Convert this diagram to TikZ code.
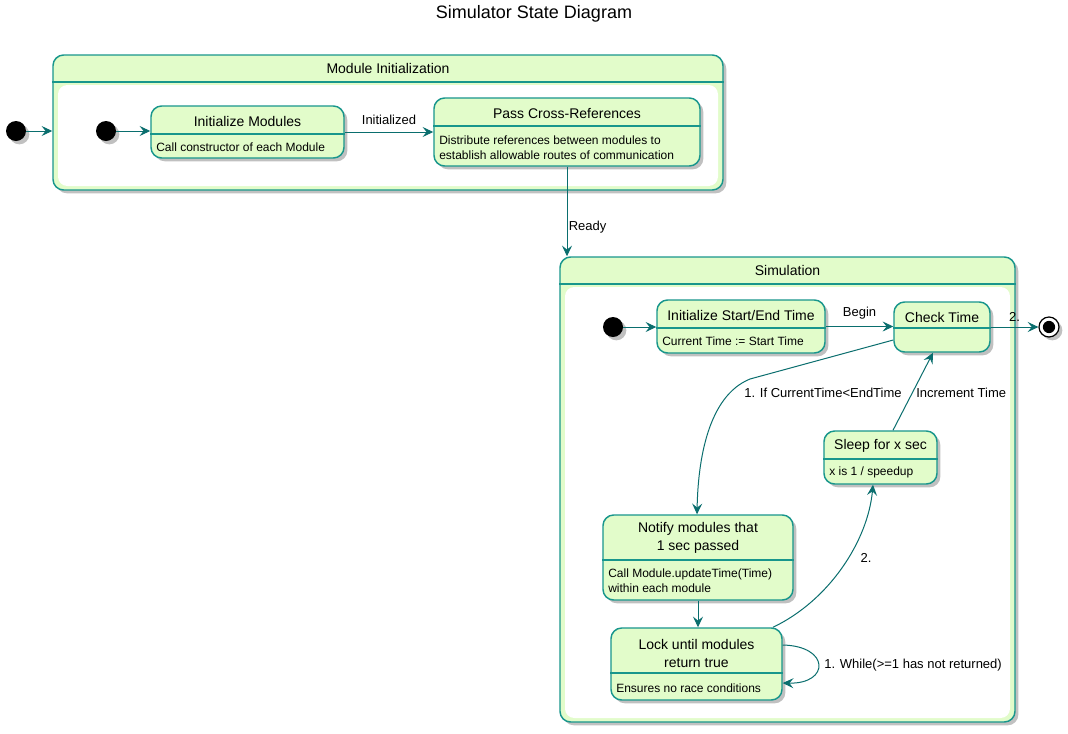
\documentclass[tikz,border=0pt]{standalone}
\usepackage{fontspec}
\setmainfont{Liberation Sans}
\usepackage{xcolor}
\usepackage{tikz}
\usetikzlibrary{shadows,arrows.meta}

\definecolor{stfill}{RGB}{226,252,202}
\definecolor{stline}{RGB}{24,150,140}
\definecolor{stedge}{RGB}{10,110,110}

\tikzset{
	shade/.style={drop shadow={shadow xshift=2.5pt, shadow yshift=-2.5pt, opacity=0.35, fill=black!70}},
	state/.style={draw=stline, line width=1.1pt, fill=stfill, rounded corners=8pt, inner sep=0pt, shade},
	sepline/.style={draw=stline, line width=1.1pt},
	stname/.style={font=\fontsize{10.5}{13.5}\selectfont, align=center, inner sep=0pt},
	stdesc/.style={font=\fontsize{9}{11.25}\selectfont, align=left, anchor=west, inner sep=0pt},
	elabel/.style={font=\fontsize{9.75}{11.5}\selectfont, inner sep=0pt},
	trans/.style={draw=stedge, line width=0.75pt, -{Stealth[length=8pt,width=7.5pt,inset=3pt]}},
	initial/.style={circle, fill=black, minimum size=15pt, inner sep=0pt, shade},
	final/.style={circle, draw=black, line width=0.9pt, fill=white, minimum size=15pt, inner sep=0pt, shade,
		path picture={\fill[black] (path picture bounding box.center) circle (4.6pt);}}
}

% name, x1, y1, x2, y2, y of the dividing line
\newcommand{\stbox}[6]{%
	\node[state, minimum width={(#4-#2)*0.75pt}, minimum height={(#5-#3)*0.75pt}] (#1) at ({(#2+#4)/2},{(#3+#5)/2}) {};
	\draw[sepline] (#1.west |- 0,#6) -- (#1.east |- 0,#6);}
\newcommand{\cmpbox}[6]{%
	\stbox{#1}{#2}{#3}{#4}{#5}{#6}
	\fill[white, rounded corners=7pt] ({#2+5},{#6+3}) rectangle ({#4-5},{#5-4});}

\begin{document}
\begin{tikzpicture}[x=0.75pt, y=-0.75pt]
	\useasboundingbox (0,0) rectangle (1068,733);
	\node[font=\fontsize{13.5}{16}\selectfont] (title) at (534,14) {Simulator State Diagram};

	% module initialization
	\cmpbox{modinit}{53}{55}{723}{190}{82}
	\node[stname] (modinitname) at (388,68) {Module Initialization};
	\node[initial] (start0) at (16,131) {};
	\node[initial] (start1) at (106,131) {};

	\stbox{initmod}{151}{106}{344}{158}{134}
	\node[stname] (initmodname) at (247.5,121) {Initialize Modules};
	\node[stdesc] (initmoddesc) at (156,147) {Call constructor of each Module};

	\stbox{passref}{434}{98}{700}{166}{126}
	\node[stname] (passrefname) at (567,113) {Pass Cross-References};
	\node[stdesc] (passrefdesc) at (439,148) {Distribute references between modules to\\establish allowable routes of communication};

	% simulation
	\cmpbox{sim}{560}{257}{1015}{722}{284}
	\node[stname] (simname) at (787.5,270) {Simulation};
	\node[initial] (start2) at (613,327) {};
	\node[final] (stop) at (1049,327) {};

	\stbox{initst}{657}{300}{825}{353}{328}
	\node[stname] (initstname) at (741,315) {Initialize Start/End Time};
	\node[stdesc] (initstdesc) at (662,341) {Current Time := Start Time};

	\stbox{check}{894}{302}{990}{352}{328}
	\node[stname] (checkname) at (942,317) {Check Time};

	\stbox{sleep}{824}{431}{937}{484}{459}
	\node[stname] (sleepname) at (880.5,446) {Sleep for x sec};
	\node[stdesc] (sleepdesc) at (829,472) {x is 1 / speedup};

	\stbox{notify}{603}{515}{793}{600}{560}
	\node[stname] (notifyname) at (698,538) {Notify modules that\\1 sec passed};
	\node[stdesc] (notifydesc) at (608,580.5) {Call Module.updateTime(Time)\\within each module};

	\stbox{lock}{611}{628}{782}{700}{673}
	\node[stname] (lockname) at (696.5,653) {Lock until modules\\return true};
	\node[stdesc] (lockdesc) at (616,688) {Ensures no race conditions};

	% transitions
	\draw[trans] (start0) -- (modinit.west |- start0);
	\draw[trans] (start1) -- (initmod.west |- start1);
	\draw[trans] (initmod.east) -- (passref.west |- initmod.east) node[elabel, midway, above=5pt] {Initialized};
	\draw[trans] (passref.south) -- (sim.north -| passref.south) node[elabel, pos=0.67, anchor=west, xshift=1pt] {Ready};
	\draw[trans] (start2) -- (initst.west |- start2);
	\draw[trans] (initst.east) -- (check.west |- initst.east) node[elabel, midway, above=5pt] {Begin};
	\draw[trans] (check.east) -- (stop) node[elabel, midway, above=4pt] {2.};
	\draw[trans] (check.west |- 0,340) -- (750,379) .. controls (708,396) and (698,460) .. (notify.north -| 697,0);
	\node[elabel, anchor=west] (iflabel) at (744,393) {1. If CurrentTime<EndTime};
	\draw[trans] (notify.south) -- (lock.north -| notify.south);
	\draw[trans] (lock.north -| 773,0) .. controls (830,600) and (868,540) .. (sleep.south -| 873,0);
	\node[elabel] (twolabel) at (866,558) {2.};
	\draw[trans] (sleep.north -| 893,0) -- (check.south -| 933,0);
	\node[elabel, anchor=west] (inclabel) at (916,393) {Increment Time};
	\draw[trans] (lock.east |- 0,645) .. controls (830,646) and (830,684) .. (lock.east |- 0,683);
	\node[elabel, anchor=west] (whilelabel) at (824,665) {1. While(>=1 has not returned)};
\end{tikzpicture}
\end{document}
